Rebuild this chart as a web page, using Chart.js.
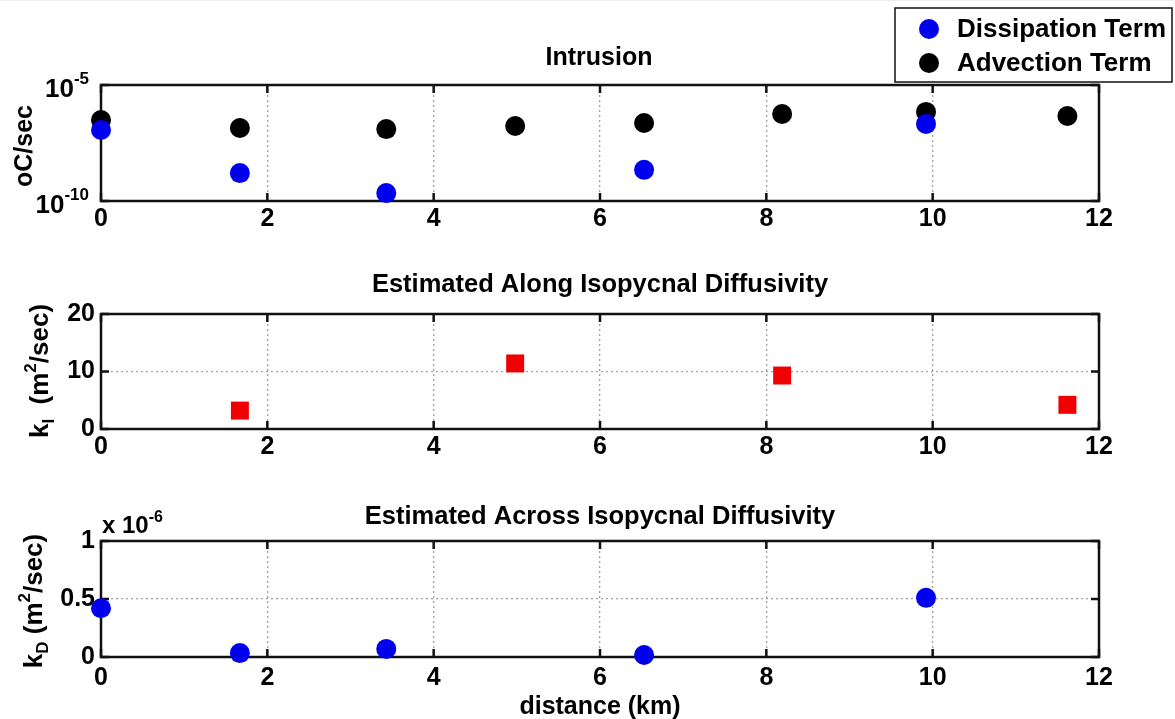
<!DOCTYPE html>
<html>
<head>
<meta charset="utf-8">
<script src="https://cdn.jsdelivr.net/npm/chart.js@4/dist/chart.umd.min.js"></script>
<style>
  html, body { margin: 0; padding: 0; background: #fff; }
  #wrap { position: relative; width: 1175px; height: 719px; border-top: 1px solid #eee; box-sizing: border-box; }
  canvas { position: absolute; left: 0; }
</style>
</head>
<body>
<div id="wrap">
  <canvas id="c1" width="1175" height="240" style="top:-1px"></canvas>
  <canvas id="c2" width="1175" height="230" style="top:239px"></canvas>
  <canvas id="c3" width="1175" height="249" style="top:469px"></canvas>
</div>
<script>
// data
const xAdvection = [0, 1.67, 3.43, 4.98, 6.53, 8.19, 9.92, 11.62];
const advection = [3.1e-7, 1.4e-7, 1.26e-7, 1.7e-7, 2.3e-7, 5.6e-7, 6.9e-7, 4.6e-7];
const xDissipation = [0, 1.67, 3.43, 6.53, 9.92];
const dissipation = [1.15e-7, 1.6e-9, 2.2e-10, 2.2e-9, 2.1e-7];

const xAlong = [1.67, 4.98, 8.19, 11.62];
const kAlong = [3.2, 11.4, 9.3, 4.2];

const xAcross = [0, 1.67, 3.43, 6.53, 9.92];
const kAcross = [0.42e-6, 0.034e-6, 0.07e-6, 0.017e-6, 0.51e-6];

const distTicks = [0, 2, 4, 6, 8, 10, 12];
const logTicks = [1e-10, 1e-5];

const FONT = '"Liberation Sans", Arial, sans-serif';
const GRID = '#a0a0a0';

function pts(xs, ys) {
  return xs.map((x, i) => ({ x: x, y: ys[i] }));
}

// draw text made of pieces (for super/subscripts)
function drawRich(ctx, parts, x, y, rot, align) {
  ctx.save();
  ctx.translate(x, y);
  ctx.rotate(rot || 0);
  ctx.textBaseline = 'alphabetic';
  ctx.textAlign = 'left';
  ctx.fillStyle = '#000';
  let total = 0;
  parts.forEach(p => {
    ctx.font = 'bold ' + p.size + 'px ' + FONT;
    p.w = ctx.measureText(p.text).width;
    total += p.w;
  });
  let cx = align === 'center' ? -total / 2 : (align === 'right' ? -total : 0);
  parts.forEach(p => {
    ctx.font = 'bold ' + p.size + 'px ' + FONT;
    ctx.fillText(p.text, cx, p.dy || 0);
    cx += p.w;
  });
  ctx.restore();
}

// matlab style box with inward ticks, plus texts
function boxPlugin(texts) {
  return {
    id: 'box',
    beforeDatasetsDraw(chart) {
      const ctx = chart.ctx, a = chart.chartArea;
      const xs = chart.scales.x, ys = chart.scales.y;
      ctx.save();
      ctx.strokeStyle = '#111';
      ctx.lineWidth = 2.5;
      ctx.strokeRect(a.left, a.top, a.right - a.left, a.bottom - a.top);
      ctx.beginPath();
      xs.ticks.forEach(t => {
        const px = xs.getPixelForValue(t.value);
        ctx.moveTo(px, a.bottom); ctx.lineTo(px, a.bottom - 8);
        ctx.moveTo(px, a.top); ctx.lineTo(px, a.top + 8);
      });
      ys.ticks.forEach(t => {
        const py = ys.getPixelForValue(t.value);
        ctx.moveTo(a.left, py); ctx.lineTo(a.left + 8, py);
        ctx.moveTo(a.right, py); ctx.lineTo(a.right - 8, py);
      });
      ctx.stroke();
      ctx.restore();
    },
    afterDraw(chart) {
      texts.forEach(t => drawRich(chart.ctx, t.parts, t.x, t.y, t.rot, t.align));
    }
  };
}

function xScale(h, pad) {
  return {
    type: 'linear', min: 0, max: 12,
    afterBuildTicks: s => { s.ticks = distTicks.map(v => ({ value: v })); },
    afterFit: s => { s.height = h; },
    grid: { color: GRID, lineWidth: 1.3, drawTicks: false },
    border: { display: false, dash: [2, 3] },
    ticks: { font: { family: FONT, size: 25, weight: 'bold' }, color: '#000', padding: pad }
  };
}

function baseOptions(top, scales) {
  return {
    responsive: false,
    animation: false,
    events: [],
    layout: { padding: { left: 0, right: 76, top: top, bottom: 0 } },
    plugins: { legend: { display: false }, tooltip: { enabled: false }, title: { display: false } },
    scales: scales
  };
}

// --- top: Intrusion ---
const legendPlugin = {
  id: 'legendBox',
  afterDraw(chart) {
    const ctx = chart.ctx;
    ctx.save();
    ctx.fillStyle = '#fff';
    ctx.fillRect(895, 8, 277, 74);
    ctx.strokeStyle = '#111';
    ctx.lineWidth = 1.5;
    ctx.strokeRect(895, 8, 277, 74);
    chart.data.datasets.forEach((ds, i) => {
      const cy = 29 + i * 34;
      ctx.fillStyle = ds.backgroundColor;
      ctx.beginPath();
      ctx.arc(929, cy, 10, 0, Math.PI * 2);
      ctx.fill();
      ctx.fillStyle = '#000';
      ctx.font = 'bold 26px ' + FONT;
      ctx.textBaseline = 'middle';
      ctx.fillText(ds.label, 957, cy + 1);
    });
    ctx.restore();
  }
};

const logLabelPlugin = {
  id: 'logLabels',
  afterDraw(chart) {
    const ys = chart.scales.y;
    logTicks.forEach(v => {
      const py = ys.getPixelForValue(v);
      const e = String(Math.round(Math.log10(v)));
      drawRich(chart.ctx, [
        { text: '10', size: 26 },
        { text: e, size: 17, dy: -13 }
      ], 89, py + 12, 0, 'right');
    });
  }
};

const yLog = {
  type: 'logarithmic', min: 1e-10, max: 1e-5,
  afterBuildTicks: s => { s.ticks = logTicks.map(v => ({ value: v })); },
  afterFit: s => { s.width = 101; },
  grid: { color: GRID, lineWidth: 1.3, drawTicks: false },
  border: { display: false, dash: [2, 3] },
  ticks: { display: false }
};

new Chart(document.getElementById('c1'), {
  type: 'scatter',
  data: {
    datasets: [
      { label: 'Dissipation Term', data: pts(xDissipation, dissipation), backgroundColor: '#0000f0', borderWidth: 0, pointRadius: 10, clip: false },
      { label: 'Advection Term', data: pts(xAdvection, advection), backgroundColor: '#000', borderWidth: 0, pointRadius: 10, clip: false }
    ]
  },
  options: baseOptions(85, { x: xScale(39, 3), y: yLog }),
  plugins: [
    boxPlugin([
      { parts: [{ text: 'Intrusion', size: 25 }], x: 599, y: 65, align: 'center' },
      { parts: [{ text: 'oC/sec', size: 25 }], x: 32, y: 146, rot: -Math.PI / 2, align: 'center' }
    ]),
    logLabelPlugin,
    legendPlugin
  ]
});

// --- middle: along isopycnal ---
new Chart(document.getElementById('c2'), {
  type: 'scatter',
  data: {
    datasets: [
      { label: 'kI', data: pts(xAlong, kAlong), backgroundColor: '#f00000', borderWidth: 0, pointStyle: 'rect', pointRadius: 12.7, clip: false }
    ]
  },
  options: baseOptions(74, {
    x: xScale(41, 3),
    y: {
      type: 'linear', min: 0, max: 20,
      ticks: { stepSize: 10, font: { family: FONT, size: 25, weight: 'bold' }, color: '#000', padding: 6 },
      afterFit: s => { s.width = 101; },
      grid: { color: GRID, lineWidth: 1.3, drawTicks: false },
      border: { display: false, dash: [2, 3] }
    }
  }),
  plugins: [
    boxPlugin([
      { parts: [{ text: 'Estimated Along Isopycnal Diffusivity', size: 25.5 }], x: 600, y: 52, align: 'center' },
      { parts: [
          { text: 'k', size: 26 }, { text: 'I', size: 17, dy: 6 },
          { text: '  (m', size: 26 }, { text: '2', size: 17, dy: -12 }, { text: '/sec)', size: 26 }
        ], x: 48, y: 131, rot: -Math.PI / 2, align: 'center' }
    ])
  ]
});

// --- bottom: across isopycnal ---
new Chart(document.getElementById('c3'), {
  type: 'scatter',
  data: {
    datasets: [
      { label: 'kD', data: pts(xAcross, kAcross), backgroundColor: '#0000f0', borderWidth: 0, pointRadius: 10, clip: false }
    ]
  },
  options: baseOptions(71, {
    x: xScale(62, 6),
    y: {
      type: 'linear', min: 0, max: 1e-6,
      ticks: {
        stepSize: 0.5e-6,
        callback: v => String(Math.round(v * 1e7) / 10),
        font: { family: FONT, size: 25, weight: 'bold' }, color: '#000', padding: 6
      },
      afterFit: s => { s.width = 101; },
      grid: { color: GRID, lineWidth: 1.3, drawTicks: false },
      border: { display: false, dash: [2, 3] }
    }
  }),
  plugins: [
    boxPlugin([
      { parts: [{ text: 'Estimated Across Isopycnal Diffusivity', size: 25.5 }], x: 600, y: 54, align: 'center' },
      { parts: [{ text: 'x 10', size: 24 }, { text: '-6', size: 16, dy: -11 }], x: 102, y: 63, align: 'left' },
      { parts: [
          { text: 'k', size: 26 }, { text: 'D', size: 17, dy: 6 },
          { text: ' (m', size: 26 }, { text: '2', size: 17, dy: -12 }, { text: '/sec)', size: 26 }
        ], x: 42, y: 131, rot: -Math.PI / 2, align: 'center' },
      { parts: [{ text: 'distance (km)', size: 25 }], x: 600, y: 244, align: 'center' }
    ])
  ]
});
</script>
</body>
</html>
